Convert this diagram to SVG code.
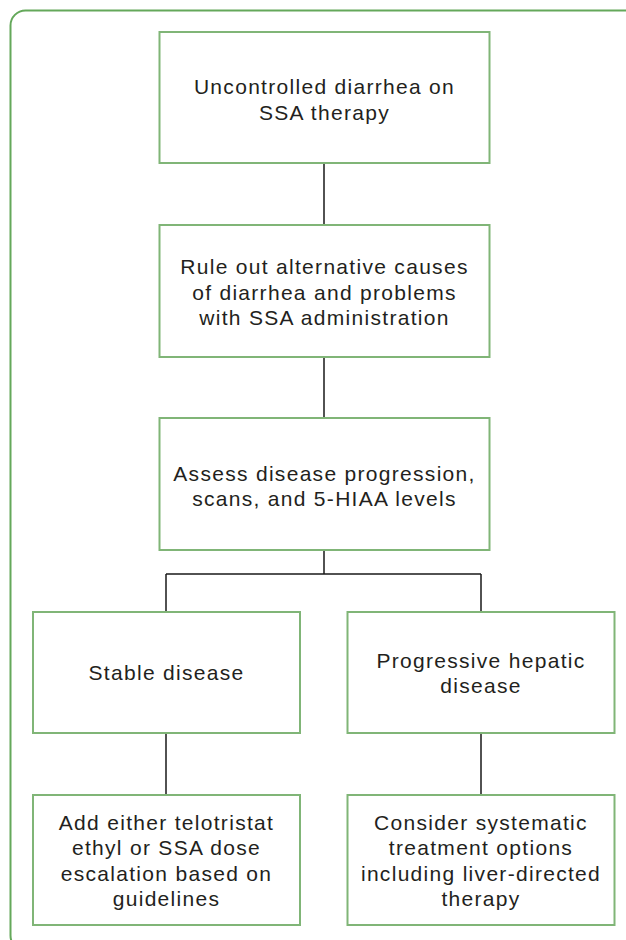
<svg xmlns="http://www.w3.org/2000/svg" width="626" height="940" viewBox="0 0 626 940">
<style>
.frame{fill:none;stroke:#64a85a;stroke-width:2}
.box{fill:#fff;stroke:#80b577;stroke-width:2}
.t{font-family:"Liberation Sans",Arial,sans-serif;font-size:21px;letter-spacing:1.3px;fill:#231f20;text-anchor:middle}
.c{fill:none;stroke:#1a1a1a;stroke-width:1.5}
</style>
<rect width="626" height="940" fill="#fff"/>
<rect class="frame" x="10.5" y="10.5" width="630" height="940" rx="15"/>
<g id="connectors">
<path class="c" d="M324 163V225M324 357V418M324 551V574M166 574H481M166 574V612M481 574V612M166 733V795M481 733V795"/>
</g>
<g id="n1"><rect class="box" x="159.5" y="32" width="330" height="131"/>
<text class="t" x="324.5" y="94">Uncontrolled diarrhea on</text><text class="t" x="324.5" y="120">SSA therapy</text></g>
<g id="n2"><rect class="box" x="159.5" y="225" width="330" height="132"/>
<text class="t" x="324.5" y="274">Rule out alternative causes</text><text class="t" x="324.5" y="300">of diarrhea and problems</text><text class="t" x="324.5" y="325">with SSA administration</text></g>
<g id="n3"><rect class="box" x="159.5" y="418" width="330" height="132"/>
<text class="t" x="324.5" y="481">Assess disease progression,</text><text class="t" x="324.5" y="506">scans, and 5-HIAA levels</text></g>
<g id="n4"><rect class="box" x="33" y="612" width="267" height="121"/>
<text class="t" x="166.5" y="680">Stable disease</text></g>
<g id="n5"><rect class="box" x="347.5" y="612" width="267" height="121"/>
<text class="t" x="481" y="668">Progressive hepatic</text><text class="t" x="481" y="693">disease</text></g>
<g id="n6"><rect class="box" x="33" y="795" width="267" height="130"/>
<text class="t" x="166.5" y="830">Add either telotristat</text><text class="t" x="166.5" y="855">ethyl or SSA dose</text><text class="t" x="166.5" y="881">escalation based on</text><text class="t" x="166.5" y="906">guidelines</text></g>
<g id="n7"><rect class="box" x="347.5" y="795" width="267" height="130"/>
<text class="t" x="481" y="830">Consider systematic</text><text class="t" x="481" y="855">treatment options</text><text class="t" x="481" y="881">including liver-directed</text><text class="t" x="481" y="906">therapy</text></g>
</svg>
